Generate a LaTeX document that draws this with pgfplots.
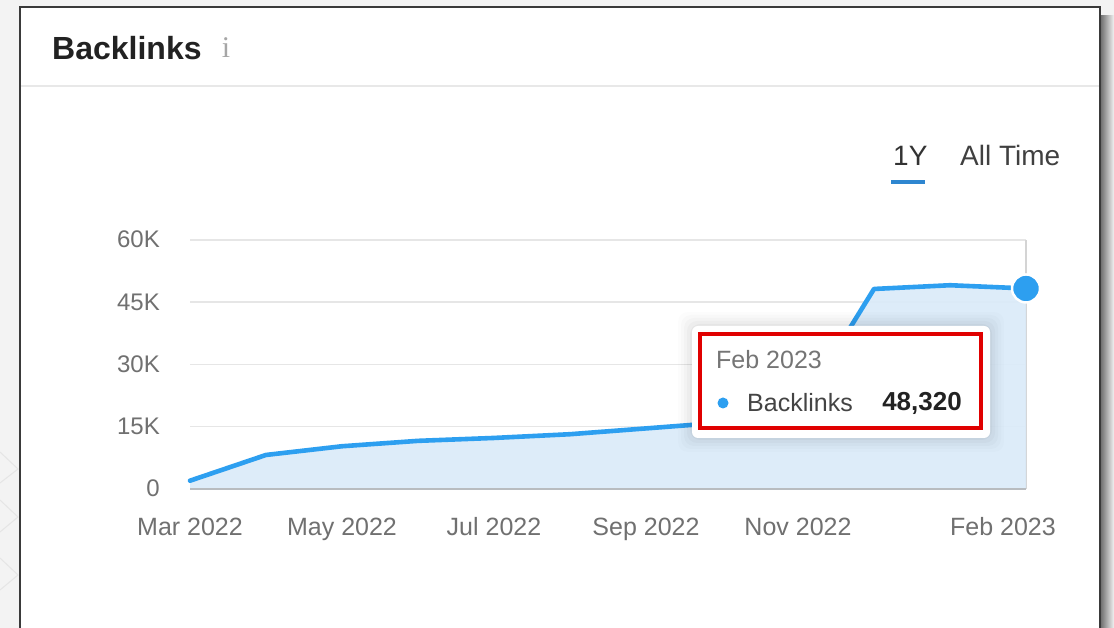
\documentclass[border=0pt]{standalone}
\usepackage{fontspec}
\setmainfont{Liberation Sans}
\newfontfamily\seriffont{Liberation Serif}
\usepackage{pgfplots}
\pgfplotsset{compat=1.18}
\definecolor{bgc}{HTML}{F3F3F3}
\definecolor{cardb}{HTML}{3A3A3A}
\definecolor{divc}{HTML}{E8E8E8}
\definecolor{titlec}{HTML}{222222}
\definecolor{tickc}{HTML}{707070}
\definecolor{gridc}{HTML}{E6E6E6}
\definecolor{axisc}{HTML}{B8BCC0}
\definecolor{crossc}{HTML}{D4D4D4}
\definecolor{linec}{HTML}{2D9FF0}
\definecolor{fillc}{HTML}{DAEBF9}
\definecolor{ulc}{HTML}{2E86D0}
\definecolor{redc}{HTML}{E00000}
\definecolor{ttgray}{HTML}{757575}
\definecolor{ttdark}{HTML}{444444}
\begin{document}
\begin{tikzpicture}
\begin{scope}[x=1pt,y=1pt]
\useasboundingbox (0,0) rectangle (1114,628);
\begin{scope}
\clip (0,0) rectangle (1114,628);
\fill[bgc] (0,0) rectangle (1114,628);
% faint chevrons on the left margin
\draw[black!10, line width=1pt] (0,176) -- (18,159) -- (0,145);
\draw[black!10, line width=1pt] (0,128) -- (18,111) -- (0,96);
\draw[black!10, line width=1pt] (0,70) -- (18,53) -- (0,38);
% shadow on the right
\shade[left color=black!55, right color=bgc] (1101,0) rectangle (1114,612);
\fill[white] (20,-10) rectangle (1100,621);
\draw[cardb, line width=2pt] (20,-10) -- (20,621) -- (1100,621) -- (1100,-10);
\end{scope}
\draw[divc, line width=2pt] (21,542) -- (1099,542);
\node[anchor=west, inner sep=0pt, font=\fontsize{32}{38}\selectfont\bfseries, text=titlec] at (52,580) {Backlinks};
\node[inner sep=0pt, font=\fontsize{30}{36}\selectfont\seriffont, text=black!35] at (226,580) {i};
% toggles
\node[anchor=west, inner sep=0pt, font=\fontsize{28}{34}\selectfont, text=black!80] at (893,472) {1Y};
\node[anchor=west, inner sep=0pt, font=\fontsize{28}{34}\selectfont, text=black!75] at (960,472) {All Time};
\draw[ulc, line width=4pt] (891,446) -- (925,446);
\end{scope}

\begin{axis}[
  at={(190pt,139pt)}, anchor=south west,
  scale only axis, width=836pt, height=249pt,
  xmin=0, xmax=11, ymin=0, ymax=60000,
  clip=false,
  axis line style={draw=none},
  major tick length=0pt,
  ymajorgrids,
  grid style={draw=gridc, line width=1.5pt},
  ytick={0,15000,30000,45000,60000},
  yticklabels={0,15K,30K,45K,60K},
  xtick={0,2,4,6,8},
  xticklabels={Mar 2022,May 2022,Jul 2022,Sep 2022,Nov 2022},
  extra x ticks={11},
  extra x tick labels={Feb 2023},
  extra x tick style={xticklabel style={xshift=-23pt}},
  ticklabel style={text=tickc, inner sep=0pt},
  xticklabel style={font=\fontsize{25}{30}\selectfont, anchor=base, yshift=-47pt},
  yticklabel style={font=\fontsize{24}{28}\selectfont, anchor=base east, xshift=-30pt, yshift=-8pt},
  scaled y ticks=false,
]
\draw[crossc, line width=1.5pt] (axis cs:11,0) -- (axis cs:11,60000);
\addplot[fill=fillc, draw=none, fill opacity=0.9] coordinates {
 (0,2000) (1,8200) (2,10300) (3,11600) (4,12300) (5,13200) (6,14600) (7,16000) (8,18500) (9,48200) (10,49100) (11,48320)
} \closedcycle;
\draw[axisc, line width=2pt] (axis cs:0,0) -- (axis cs:11,0);
\addplot[linec, line width=4.6pt, line join=round, line cap=round] coordinates {
 (0,2000) (1,8200) (2,10300) (3,11600) (4,12300) (5,13200) (6,14600) (7,16000) (8,18500) (9,48200) (10,49100) (11,48320)
};
\addplot[only marks, mark=*, mark size=14pt, mark options={fill=linec, draw=white, line width=2.5pt}] coordinates {(11,48320)};
\end{axis}

\begin{scope}[x=1pt,y=1pt]
% tooltip
\foreach \i/\o in {14/0.012,11/0.016,8/0.02,5/0.025,2/0.03} {
  \fill[black, opacity=\o, rounded corners=10pt] (692-\i,190-\i) rectangle (990+\i,302+\i);
}
\fill[white, rounded corners=6pt] (692,190) rectangle (990,302);
\draw[redc, line width=4pt] (700,200) rectangle (981,294);
\node[anchor=west, inner sep=0pt, font=\fontsize{25}{30}\selectfont, text=ttgray] at (716,268) {Feb 2023};
\fill[linec] (723,225) circle (5.5);
\node[anchor=west, inner sep=0pt, font=\fontsize{25}{30}\selectfont, text=ttdark] at (747,225) {Backlinks};
\node[anchor=east, inner sep=0pt, font=\fontsize{26}{30}\selectfont\bfseries, text=titlec] at (962,225) {48,320};
\end{scope}
\end{tikzpicture}
\end{document}
